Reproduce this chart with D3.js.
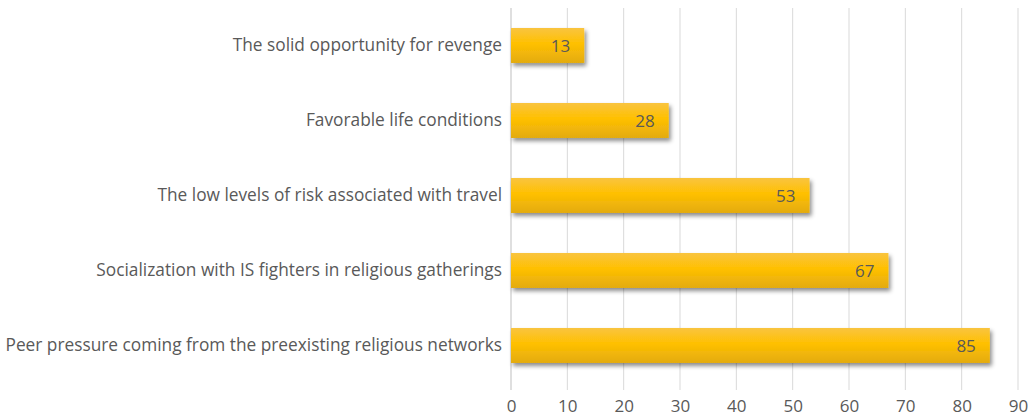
<!DOCTYPE html>
<html>
<head>
<meta charset="utf-8">
<script src="https://cdn.jsdelivr.net/npm/d3@7"></script>
<style>
  body { margin: 0; background: #fff; }
  svg text { font-family: "Open Sans", sans-serif; fill: #595959; }
</style>
</head>
<body>
<div id="chart"></div>
<script>
  // data
  const categories = [
    "The solid opportunity for revenge",
    "Favorable life conditions",
    "The low levels of risk associated with travel",
    "Socialization with IS fighters in religious gatherings",
    "Peer pressure coming from the preexisting religious networks",
  ];
  const values = [13, 28, 53, 67, 85];
  const ticks = [0, 10, 20, 30, 40, 50, 60, 70, 80, 90];

  // size
  const w = 1035;
  const h = 419;
  const margin = { top: 8, right: 17, bottom: 29, left: 511 };

  const svg = d3
    .select("#chart")
    .append("svg")
    .attr("width", w)
    .attr("height", h);

  const defs = svg.append("defs");

  // bar gradient
  const grad = defs
    .append("linearGradient")
    .attr("id", "gold")
    .attr("x1", 0).attr("y1", 0).attr("x2", 0).attr("y2", 1);
  grad.append("stop").attr("offset", "0%").attr("stop-color", "#f9c440");
  grad.append("stop").attr("offset", "45%").attr("stop-color", "#ffc000");
  grad.append("stop").attr("offset", "100%").attr("stop-color", "#e3ab12");

  // shadow
  const shadow = defs
    .append("filter")
    .attr("id", "shadow")
    .attr("x", "-10%").attr("y", "-30%")
    .attr("width", "130%").attr("height", "180%");
  shadow
    .append("feDropShadow")
    .attr("dx", 2)
    .attr("dy", 3)
    .attr("stdDeviation", 2)
    .attr("flood-color", "#000")
    .attr("flood-opacity", 0.45);

  const x = d3
    .scaleLinear()
    .domain([0, 90])
    .range([margin.left, w - margin.right]);

  // band step 75px, bar 35px
  const y = d3
    .scaleBand()
    .domain(categories)
    .range([margin.top, margin.top + 375])
    .paddingInner(0.5333)
    .paddingOuter(0.2667);

  // gridlines
  svg
    .append("g")
    .selectAll("line")
    .data(ticks)
    .enter()
    .append("line")
    .attr("x1", (d) => x(d))
    .attr("x2", (d) => x(d))
    .attr("y1", margin.top)
    .attr("y2", h - margin.bottom)
    .attr("stroke", (d) => (d === 0 ? "#bfbfbf" : "#d9d9d9"))
    .attr("stroke-width", 1);

  // bars
  svg
    .append("g")
    .selectAll("rect")
    .data(values)
    .enter()
    .append("rect")
    .attr("x", x(0))
    .attr("y", (d, i) => y(categories[i]))
    .attr("width", (d) => x(d) - x(0))
    .attr("height", y.bandwidth())
    .attr("fill", "url(#gold)")
    .attr("filter", "url(#shadow)");

  // value labels
  svg
    .append("g")
    .selectAll("text")
    .data(values)
    .enter()
    .append("text")
    .attr("x", (d) => x(d) - 14)
    .attr("y", (d, i) => y(categories[i]) + y.bandwidth() / 2)
    .attr("dy", "0.36em")
    .attr("text-anchor", "end")
    .style("font-size", "17px")
    .text((d) => d);

  // y axis labels
  const yAxis = d3.axisLeft(y).tickSize(0).tickPadding(9);
  const gy = svg
    .append("g")
    .attr("transform", "translate(" + margin.left + ",0)")
    .call(yAxis);
  gy.select(".domain").remove();
  gy.selectAll("text")
    .style("font-size", "17.3px")
    .style("font-family", "'Open Sans', sans-serif")
    .attr("fill", "#595959");

  // x axis labels
  const xAxis = d3.axisBottom(x).tickValues(ticks).tickSize(0).tickPadding(10);
  const gx = svg
    .append("g")
    .attr("transform", "translate(0," + (h - margin.bottom) + ")")
    .call(xAxis);
  gx.select(".domain").remove();
  gx.selectAll("text")
    .style("font-size", "17px")
    .style("font-family", "'Open Sans', sans-serif")
    .attr("fill", "#595959");
</script>
</body>
</html>
